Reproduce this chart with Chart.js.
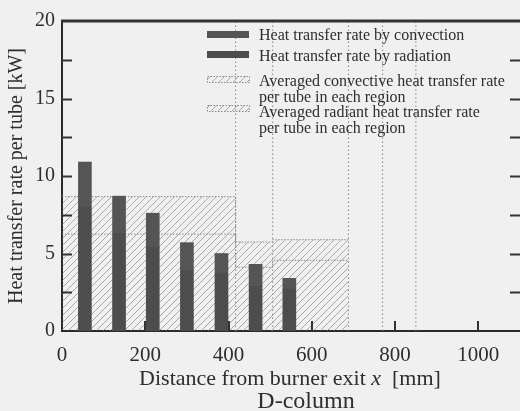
<!DOCTYPE html>
<html lang="en">
<head>
<meta charset="UTF-8">
<title>D-column heat transfer rate per tube</title>
<script src="https://cdn.jsdelivr.net/npm/chart.js"></script>
<style>
    html, body { margin: 0; padding: 0; background: #f0f0f0; overflow: hidden; }
    #wrap { width: 520px; height: 411px; }
</style>
</head>
<body>
<div id="wrap"><canvas id="chart" width="520" height="411"></canvas></div>
<script>
// tube positions [mm] and per-tube heat transfer rate [kW]
const tubeX = [55, 137, 218, 300, 383, 465, 546];
const radiation = [8.0, 6.3, 5.4, 3.9, 3.7, 2.9, 2.7];
const convection = [2.9, 2.4, 2.2, 1.8, 1.3, 1.4, 0.7];

// region averages (per tube)
const regionEdges = [0, 417, 506, 688];
const radAvg = [6.25, 4.11, 4.56];
const convAvg = [2.42, 1.63, 1.33];

// dotted vertical boundaries
const boundaryX = [417, 506, 688, 770, 850];

const xTicks = [0, 200, 400, 600, 800, 1000];
const yTicks = [0, 5, 10, 15, 20];
const yMinor = [2.5, 5, 7.5, 10, 12.5, 15, 17.5];

const SERIF = '"Liberation Serif", "Times New Roman", serif';
const INK = '#2e2e2e';
const RAD_COL = '#4d4d4d';
const CONV_COL = '#555555';

function hatch(color, gap) {
    const c = document.createElement('canvas');
    c.width = gap; c.height = gap;
    const g = c.getContext('2d');
    g.strokeStyle = color;
    g.lineWidth = 1;
    g.beginPath();
    g.moveTo(0, gap); g.lineTo(gap, 0);
    g.moveTo(-1, 1); g.lineTo(1, -1);
    g.moveTo(gap - 1, gap + 1); g.lineTo(gap + 1, gap - 1);
    g.stroke();
    return g.createPattern(c, 'repeat');
}
const hatchRad = hatch('rgba(110,110,110,0.55)', 7);
const hatchConv = hatch('rgba(110,110,110,0.5)', 7);

function steps(vals) {
    const pts = vals.map((v, i) => ({ x: regionEdges[i], y: v }));
    pts.push({ x: regionEdges[regionEdges.length - 1], y: vals[vals.length - 1] });
    return pts;
}
const regionTop = radAvg.map((v, i) => v + convAvg[i]);

const vlines = [];
boundaryX.forEach(x => { vlines.push({ x, y: 0 }, { x, y: 20 }, { x, y: null }); });

const radBars = tubeX.map((x, i) => ({ x, y: radiation[i] }));
const convBars = tubeX.map((x, i) => ({ x, y: [radiation[i], radiation[i] + convection[i]] }));

const legendItems = [
    { kind: 'bar', color: CONV_COL, sy: 31, lines: ['Heat transfer rate by convection'], ty: 36 },
    { kind: 'bar', color: RAD_COL, sy: 51, lines: ['Heat transfer rate by radiation'], ty: 57 },
    { kind: 'hatch', fill: hatchConv, sy: 76, lines: ['Averaged convective heat transfer rate', 'per tube in each region'], ty: 82 },
    { kind: 'hatch', fill: hatchRad, sy: 105, lines: ['Averaged radiant heat transfer rate', 'per tube in each region'], ty: 113 }
];

const decor = {
    id: 'decor',
    afterDraw(chart) {
        const { ctx, chartArea: a, scales: { x, y } } = chart;
        ctx.save();
        // top frame line
        ctx.strokeStyle = '#333';
        ctx.lineWidth = 3;
        ctx.beginPath();
        ctx.moveTo(a.left - 1, a.top); ctx.lineTo(a.right, a.top);
        ctx.stroke();
        // inward ticks
        ctx.lineWidth = 2;
        ctx.beginPath();
        yMinor.forEach(v => {
            const py = Math.round(y.getPixelForValue(v)) + 0.5;
            ctx.moveTo(a.left, py); ctx.lineTo(a.left + 10, py);
            ctx.moveTo(a.right, py); ctx.lineTo(a.right - 10, py);
        });
        xTicks.slice(1).forEach(v => {
            const px = Math.round(x.getPixelForValue(v));
            ctx.moveTo(px, a.bottom); ctx.lineTo(px, a.bottom - 10);
        });
        ctx.stroke();

        // legend
        ctx.font = '16px ' + SERIF;
        ctx.textBaseline = 'middle';
        legendItems.forEach(it => {
            if (it.kind === 'bar') {
                ctx.fillStyle = it.color;
                ctx.fillRect(207, it.sy, 42, 7);
            } else {
                ctx.fillStyle = it.fill;
                ctx.fillRect(207, it.sy, 42, 6);
                ctx.strokeStyle = '#888';
                ctx.lineWidth = 1;
                ctx.setLineDash([1.5, 1.5]);
                ctx.strokeRect(207.5, it.sy + 0.5, 42, 6);
                ctx.setLineDash([]);
            }
            ctx.fillStyle = INK;
            it.lines.forEach((t, k) => ctx.fillText(t, 259, it.ty + k * 16));
        });

        // x axis title
        ctx.textBaseline = 'alphabetic';
        const f = '22px ' + SERIF;
        const parts = [['Distance from burner exit ', f], ['x', 'italic ' + f], ['  [mm]', f]];
        let w = 0;
        parts.forEach(p => { ctx.font = p[1]; w += ctx.measureText(p[0]).width; });
        let cx = 290 - w / 2;
        parts.forEach(p => {
            ctx.font = p[1];
            ctx.textAlign = 'left';
            ctx.fillText(p[0], cx, 385);
            cx += ctx.measureText(p[0]).width;
        });
        ctx.font = '24px ' + SERIF;
        ctx.textAlign = 'center';
        ctx.fillText('D-column', 306, 408);
        ctx.restore();
    }
};

new Chart(document.getElementById('chart'), {
    type: 'bar',
    data: {
        datasets: [
            {
                label: 'Heat transfer rate by radiation',
                data: radBars,
                backgroundColor: RAD_COL,
                barThickness: 13,
                grouped: false,
                order: 1
            },
            {
                label: 'Heat transfer rate by convection',
                data: convBars,
                backgroundColor: CONV_COL,
                barThickness: 13,
                grouped: false,
                order: 1
            },
            {
                type: 'line',
                label: 'Region boundaries',
                data: vlines,
                borderColor: '#8a8a8a',
                borderWidth: 1,
                borderDash: [1.5, 2.5],
                pointRadius: 0,
                spanGaps: false,
                fill: false,
                order: 2
            },
            {
                type: 'line',
                label: 'Averaged radiant heat transfer rate per tube in each region',
                data: steps(radAvg),
                stepped: 'before',
                borderColor: '#8a8a8a',
                borderWidth: 1,
                borderDash: [1.5, 1.5],
                pointRadius: 0,
                backgroundColor: hatchRad,
                fill: 'origin',
                order: 4
            },
            {
                type: 'line',
                label: 'Averaged convective heat transfer rate per tube in each region',
                data: steps(regionTop),
                stepped: 'before',
                borderColor: '#8a8a8a',
                borderWidth: 1,
                borderDash: [1.5, 1.5],
                pointRadius: 0,
                backgroundColor: hatchConv,
                fill: '-1',
                order: 3
            }
        ]
    },
    options: {
        responsive: false,
        animation: false,
        devicePixelRatio: 1,
        layout: { padding: { top: 21, left: 0, right: 0, bottom: 0 } },
        plugins: { legend: { display: false }, tooltip: { enabled: false } },
        scales: {
            x: {
                type: 'linear',
                offset: false,
                min: 0,
                max: 1100,
                afterBuildTicks: s => { s.ticks = xTicks.map(v => ({ value: v })); },
                afterFit: s => { s.height = 80; },
                grid: { display: false, drawTicks: false, offset: false },
                border: { color: '#2a2a2a', width: 2 },
                ticks: {
                    padding: 12, color: INK, font: { family: SERIF, size: 21 }, maxRotation: 0,
                    callback: v => String(v)
                }
            },
            y: {
                min: 0,
                max: 20,
                afterBuildTicks: s => { s.ticks = yTicks.map(v => ({ value: v })); },
                afterFit: s => { s.width = 62; },
                grid: { display: false, drawTicks: false },
                border: { color: '#2a2a2a', width: 2 },
                ticks: { padding: 7, color: INK, font: { family: SERIF, size: 20 } },
                title: {
                    display: true,
                    text: 'Heat transfer rate per tube [kW]',
                    color: INK,
                    font: { family: SERIF, size: 20 },
                    padding: { top: 5, bottom: 0 }
                }
            }
        }
    },
    plugins: [decor]
});
</script>
</body>
</html>
